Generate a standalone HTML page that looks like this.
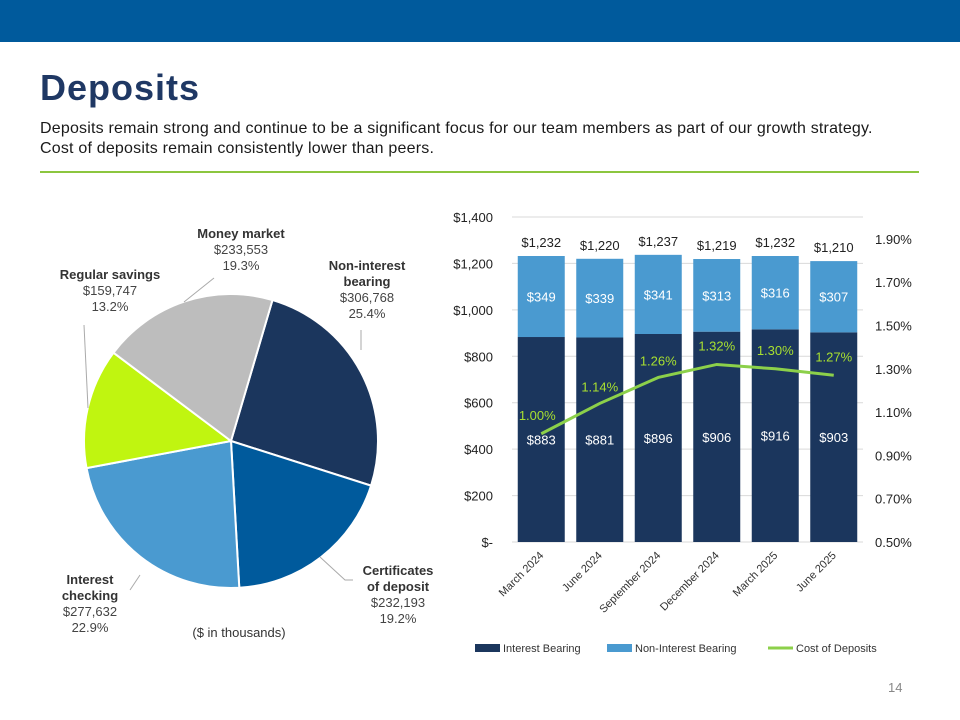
<!DOCTYPE html>
<html><head><meta charset="utf-8"><style>
body{margin:0;width:960px;height:720px;background:#fff;font-family:"Liberation Sans",sans-serif;position:relative;overflow:hidden}
.top{position:absolute;left:0;top:0;width:960px;height:42px;background:#005a9c}
h1{position:absolute;left:40px;top:67px;margin:0;font-size:36px;letter-spacing:1px;color:#1f3864;font-weight:bold}
.sub{position:absolute;left:40px;top:119px;width:870px;font-size:16px;letter-spacing:0.2px;line-height:20px;color:#1a1a1a}
.rule{position:absolute;left:40px;top:171px;width:879px;height:2px;background:#8cc63f}
.pg{position:absolute;left:888px;top:680px;font-size:13px;color:#888}
svg{position:absolute;left:0;top:0}
</style></head><body>
<div class="top"></div>
<h1>Deposits</h1>
<div class="sub">Deposits remain strong and continue to be a significant focus for our team members as part of our growth strategy. Cost of deposits remain consistently lower than peers.</div>
<div class="rule"></div>
<div class="pg">14</div>
<svg id="pie" width="960" height="720"></svg>
<svg id="bar" width="960" height="720"></svg>
<script>
const pieLabels=["Non-interest bearing","Certificates of deposit","Interest checking","Regular savings","Money market"];
const pieValues=[306768,232193,277632,159747,233553];
const pieColors=["#1b365d","#005a9c","#4a9ad0","#c0f510","#bdbdbd"];
const cats=["March 2024","June 2024","September 2024","December 2024","March 2025","June 2025"];
const ib=[883,881,896,906,916,903];
const nib=[349,339,341,313,316,307];
const totals=[1232,1220,1237,1219,1232,1210];
const cost=[1.00,1.14,1.26,1.32,1.30,1.27];
const leftTicks=[0,200,400,600,800,1000,1200,1400];
const rightTicks=[0.5,0.7,0.9,1.1,1.3,1.5,1.7,1.9];
const NS="http://www.w3.org/2000/svg";
function mk(p,t,a,txt){const e=document.createElementNS(NS,t);for(const k in a)e.setAttribute(k,a[k]);if(txt!=null)e.textContent=txt;p.appendChild(e);return e;}
const pie=document.getElementById('pie');
const cx=231,cy=441,r=147;let ang=16.4*Math.PI/180;
const sum=pieValues.reduce((a,b)=>a+b,0);
pieValues.forEach((v,i)=>{
  const a0=ang,a1=ang+v/sum*2*Math.PI;ang=a1;
  const x0=cx+r*Math.sin(a0),y0=cy-r*Math.cos(a0),x1=cx+r*Math.sin(a1),y1=cy-r*Math.cos(a1);
  const s=mk(pie,'path',{d:`M${cx},${cy}L${x0},${y0}A${r},${r} 0 ${a1-a0>Math.PI?1:0} 1 ${x1},${y1}Z`,fill:pieColors[i],stroke:'#fff','stroke-width':2});
  
  
});
const lbl=[
 {x:367,y:270,l:["Non-interest","bearing"],v:"$306,768",p:"25.4%"},
 {x:398,y:575,l:["Certificates","of deposit"],v:"$232,193",p:"19.2%"},
 {x:90,y:584,l:["Interest","checking"],v:"$277,632",p:"22.9%"},
 {x:110,y:279,l:["Regular savings"],v:"$159,747",p:"13.2%"},
 {x:241,y:238,l:["Money market"],v:"$233,553",p:"19.3%"}];
lbl.forEach((o,i)=>{
  let y=o.y;
  o.l.forEach(t=>{const e=mk(pie,'text',{x:o.x,y:y,'text-anchor':'middle','font-size':13,'font-weight':'bold',fill:'#333'},t);y+=16;});
  mk(pie,'text',{x:o.x,y:y,'text-anchor':'middle','font-size':13,fill:'#444'},o.v);y+=16;
  mk(pie,'text',{x:o.x,y:y,'text-anchor':'middle','font-size':13,fill:'#444'},o.p);
});
mk(pie,'polyline',{points:"361,330 361,350",stroke:'#aaa',fill:'none'});
mk(pie,'polyline',{points:"320,557 345,580 353,580",stroke:'#aaa',fill:'none'});
mk(pie,'polyline',{points:"140,575 130,590",stroke:'#aaa',fill:'none'});
mk(pie,'polyline',{points:"84,325 88,408",stroke:'#aaa',fill:'none'});
mk(pie,'polyline',{points:"214,278 184,302",stroke:'#aaa',fill:'none'});
mk(pie,'text',{x:239,y:637,'text-anchor':'middle','font-size':13,fill:'#333'},"($ in thousands)");
const bar=document.getElementById('bar');
const X0=512,X1=863,Y0=542,Y1=217;
const band=(X1-X0)/cats.length,bw=47;
const yL=v=>Y0-(v/1400)*(Y0-Y1);
const yR=v=>Y0-(v-0.5)*216.5;
const xc=i=>X0+band*(i+0.5);
leftTicks.forEach(t=>{
  mk(bar,'line',{x1:X0,x2:X1,y1:yL(t),y2:yL(t),stroke:'#d9d9d9'});
  const e=mk(bar,'text',{x:493,y:yL(t)+5,'text-anchor':'end','font-size':13,fill:'#222'},t===0?"$-":"$"+t.toLocaleString('en-US'));
  
});
rightTicks.forEach(t=>{
  const e=mk(bar,'text',{x:875,y:yR(t)+5,'font-size':13,fill:'#222'},t.toFixed(2)+"%");
  
});
cats.forEach((c,i)=>{
  const x=xc(i)-bw/2;
  const b1=mk(bar,'rect',{x:x,y:yL(ib[i]),width:bw,height:Y0-yL(ib[i]),fill:'#1b365d'});
  
  const b2=mk(bar,'rect',{x:x,y:yL(ib[i]+nib[i]),width:bw,height:yL(ib[i])-yL(ib[i]+nib[i]),fill:'#4a9ad0'});
  
  mk(bar,'text',{x:xc(i),y:yL(ib[i]/2)+5,'text-anchor':'middle','font-size':13,fill:'#fff'},"$"+ib[i]);
  mk(bar,'text',{x:xc(i),y:yL(ib[i]+nib[i]/2)+5,'text-anchor':'middle','font-size':13,fill:'#fff'},"$"+nib[i]);
  mk(bar,'text',{x:xc(i),y:yL(totals[i])-9,'text-anchor':'middle','font-size':13,fill:'#222'},"$"+totals[i].toLocaleString('en-US'));
  const t=mk(bar,'text',{x:xc(i)+3,y:Y0+14,'text-anchor':'end','font-size':11,fill:'#333',transform:`rotate(-45 ${xc(i)+3} ${Y0+14})`},c);
  
});
const ln=mk(bar,'polyline',{points:cost.map((v,i)=>xc(i)+","+yR(v)).join(" "),fill:'none',stroke:'#8cd04a','stroke-width':3});

cost.forEach((v,i)=>{mk(bar,'text',{x:xc(i)-(i===0?4:0),y:yR(v)-(i===0?14:12)-(i>=3?2:0),'text-anchor':'middle','font-size':13,fill:'#a8e030'},v.toFixed(2)+"%");});
const leg=[["#1b365d","Interest Bearing",475],["#4a9ad0","Non-Interest Bearing",607],["#8cd04a","Cost of Deposits",768]];
leg.forEach((l,i)=>{
  if(i<2)mk(bar,'rect',{x:l[2],y:644,width:25,height:8,fill:l[0]});
  else mk(bar,'line',{x1:l[2],x2:l[2]+25,y1:648,y2:648,stroke:l[0],'stroke-width':3});
  const e=mk(bar,'text',{x:l[2]+28,y:652,'font-size':11,fill:'#333'},l[1]);
  
});
</script>
</body></html>
